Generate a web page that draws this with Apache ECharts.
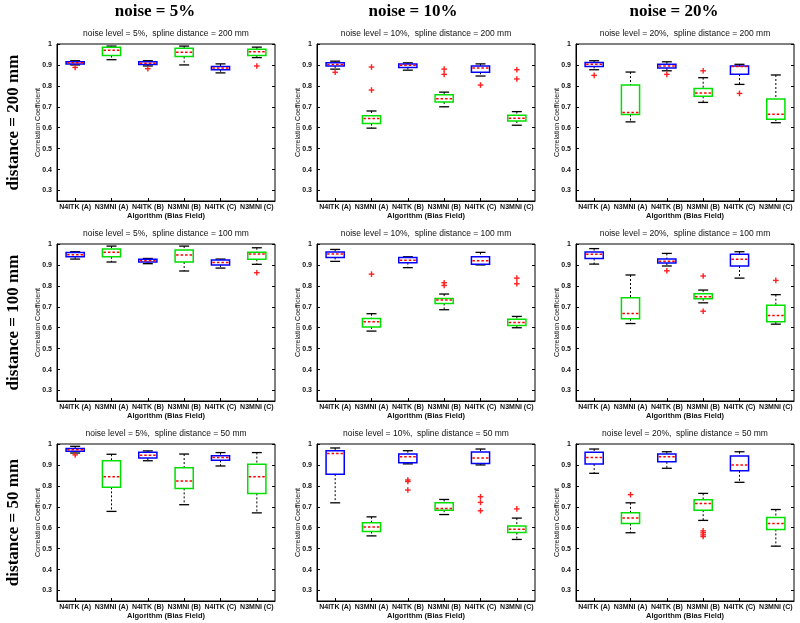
<!DOCTYPE html>
<html>
<head>
<meta charset="utf-8">
<script src="https://cdn.jsdelivr.net/npm/echarts@6/dist/echarts.min.js"></script>
<style>html,body{margin:0;padding:0;background:#fff;}#c{width:800px;height:623px;}</style>
</head>
<body>
<div id="c"></div>
<script>
// ---------- data ----------
const categories = ['N4ITK (A)', 'N3MNI (A)', 'N4ITK (B)', 'N3MNI (B)', 'N4ITK (C)', 'N3MNI (C)'];
const noiseLevels = ['5%', '10%', '20%'];
const splineDistances = [200, 100, 50];
const yTicks = [0.3, 0.4, 0.5, 0.6, 0.7, 0.8, 0.9, 1];

// each box: [lower whisker, Q1, median, Q3, upper whisker]
const box_n5_d200 = [[0.900,0.905,0.910,0.915,0.920],[0.925,0.945,0.970,0.985,0.990],[0.895,0.902,0.908,0.915,0.920],[0.900,0.940,0.960,0.980,0.990],[0.862,0.877,0.885,0.893,0.905],[0.935,0.945,0.963,0.975,0.985]];
const out_n5_d200 = [[0,0.888],[2,0.882],[5,0.895]];
const box_n10_d200 = [[0.880,0.895,0.902,0.910,0.918],[0.598,0.620,0.644,0.657,0.680],[0.875,0.888,0.898,0.905,0.910],[0.700,0.723,0.738,0.757,0.770],[0.847,0.865,0.885,0.895,0.905],[0.612,0.632,0.645,0.660,0.677]];
const out_n10_d200 = [[0,0.865],[1,0.890],[1,0.780],[3,0.880],[3,0.855],[4,0.804],[5,0.877],[5,0.833]];
const box_n20_d200 = [[0.877,0.893,0.903,0.912,0.920],[0.628,0.663,0.673,0.804,0.866],[0.872,0.885,0.895,0.903,0.915],[0.721,0.750,0.766,0.788,0.839],[0.807,0.856,0.892,0.895,0.903],[0.624,0.641,0.665,0.737,0.852]];
const out_n20_d200 = [[0,0.850],[2,0.855],[3,0.872],[4,0.764]];

const box_n5_d100 = [[0.928,0.939,0.949,0.959,0.963],[0.914,0.939,0.960,0.976,0.990],[0.906,0.914,0.920,0.927,0.931],[0.871,0.914,0.947,0.971,0.990],[0.885,0.900,0.912,0.923,0.928],[0.903,0.927,0.952,0.960,0.982]];
const out_n5_d100 = [[5,0.863]];
const box_n10_d100 = [[0.917,0.936,0.952,0.962,0.974],[0.584,0.604,0.628,0.644,0.667],[0.887,0.911,0.922,0.936,0.939],[0.686,0.716,0.732,0.740,0.761],[0.900,0.903,0.920,0.939,0.960],[0.600,0.611,0.625,0.640,0.654]];
const out_n10_d100 = [[1,0.856],[3,0.815],[3,0.802],[5,0.837],[5,0.810]];
const box_n20_d100 = [[0.904,0.931,0.951,0.962,0.978],[0.620,0.643,0.668,0.743,0.852],[0.895,0.909,0.917,0.928,0.955],[0.719,0.738,0.748,0.762,0.780],[0.837,0.895,0.927,0.951,0.963],[0.617,0.628,0.659,0.707,0.758]];
const out_n20_d100 = [[2,0.872],[3,0.847],[3,0.679],[5,0.826]];

const box_n5_d50 = [[0.957,0.965,0.973,0.978,0.989],[0.678,0.793,0.844,0.920,0.951],[0.920,0.933,0.946,0.960,0.967],[0.710,0.788,0.823,0.887,0.952],[0.895,0.922,0.936,0.944,0.959],[0.671,0.764,0.844,0.903,0.959]];
const out_n5_d50 = [[0,0.948]];
const box_n10_d50 = [[0.719,0.856,0.955,0.968,0.981],[0.561,0.582,0.603,0.624,0.652],[0.905,0.911,0.939,0.952,0.968],[0.663,0.684,0.692,0.719,0.735],[0.900,0.907,0.933,0.962,0.976],[0.544,0.577,0.593,0.608,0.646]];
const out_n10_d50 = [[2,0.828],[2,0.821],[2,0.780],[4,0.748],[4,0.721],[4,0.681],[5,0.690]];
const box_n20_d50 = [[0.860,0.904,0.935,0.960,0.976],[0.576,0.620,0.646,0.671,0.719],[0.884,0.915,0.939,0.952,0.963],[0.635,0.684,0.716,0.734,0.764],[0.817,0.872,0.900,0.943,0.963],[0.512,0.592,0.620,0.649,0.687]];
const out_n20_d50 = [[1,0.758],[3,0.585],[3,0.576],[3,0.566],[3,0.558]];

const boxes = [
  [box_n5_d200, box_n10_d200, box_n20_d200],
  [box_n5_d100, box_n10_d100, box_n20_d100],
  [box_n5_d50, box_n10_d50, box_n20_d50]
];
const outliers = [
  [out_n5_d200, out_n10_d200, out_n20_d200],
  [out_n5_d100, out_n10_d100, out_n20_d100],
  [out_n5_d50, out_n10_d50, out_n20_d50]
];

// ---------- layout ----------
const colLeft = [57, 317, 576];
const rowTop = [44, 244, 444];
const plotW = 218, plotH = 157;
const headerX = [155, 413, 674];

const chart = echarts.init(document.getElementById('c'), null, {renderer: 'canvas'});

const grids = [], xAxes = [], yAxes = [], series = [], graphics = [];
const labelFont = 'Liberation Sans, Arial, sans-serif';

function renderBox(params, api) {
  const idx = api.value(0);
  const lo = api.coord([idx, api.value(1)]);
  const q1 = api.coord([idx, api.value(2)]);
  const md = api.coord([idx, api.value(3)]);
  const q3 = api.coord([idx, api.value(4)]);
  const hi = api.coord([idx, api.value(5)]);
  const bw = api.size([1, 0])[0] * 0.5;
  const cw = bw * 0.55;
  const x = lo[0];
  const color = idx % 2 === 0 ? '#0000ff' : '#00e000';
  const wStyle = {stroke: '#000', lineWidth: 1, lineDash: [2, 2], fill: null};
  const cStyle = {stroke: '#000', lineWidth: 1.3, fill: null};
  return {
    type: 'group',
    children: [
      {type: 'line', shape: {x1: x, y1: hi[1], x2: x, y2: q3[1]}, style: wStyle},
      {type: 'line', shape: {x1: x, y1: q1[1], x2: x, y2: lo[1]}, style: wStyle},
      {type: 'line', shape: {x1: x - cw / 2, y1: hi[1], x2: x + cw / 2, y2: hi[1]}, style: cStyle},
      {type: 'line', shape: {x1: x - cw / 2, y1: lo[1], x2: x + cw / 2, y2: lo[1]}, style: cStyle},
      {type: 'rect', shape: {x: x - bw / 2, y: q3[1], width: bw, height: q1[1] - q3[1]}, style: {fill: 'none', stroke: color, lineWidth: 1.5}},
      {type: 'line', shape: {x1: x - bw / 2 + 1, y1: md[1], x2: x + bw / 2 - 1, y2: md[1]}, style: {stroke: '#ff0000', lineWidth: 1.5, lineDash: [2.5, 2]}}
    ]
  };
}

function renderOutlier(params, api) {
  const p = api.coord([api.value(0), api.value(1)]);
  const s = 2.8;
  const st = {stroke: '#ff2020', lineWidth: 1.4};
  return {
    type: 'group',
    children: [
      {type: 'line', shape: {x1: p[0] - s, y1: p[1], x2: p[0] + s, y2: p[1]}, style: st},
      {type: 'line', shape: {x1: p[0], y1: p[1] - s, x2: p[0], y2: p[1] + s}, style: st}
    ]
  };
}

for (let r = 0; r < 3; r++) {
  for (let c = 0; c < 3; c++) {
    const g = grids.length;
    grids.push({left: colLeft[c], top: rowTop[r], width: plotW, height: plotH, show: true, borderColor: '#000', borderWidth: 1, backgroundColor: 'transparent'});
    xAxes.push({
      type: 'category', gridIndex: g, data: categories, boundaryGap: true,
      axisLine: {show: true, lineStyle: {color: '#000', width: 1}},
      axisTick: {show: true, inside: true, alignWithLabel: true, length: 3, lineStyle: {color: '#000'}},
      axisLabel: {interval: 0, margin: 3, fontSize: 7, fontWeight: 'bold', color: '#111', fontFamily: labelFont},
      name: 'Algorithm (Bias Field)', nameLocation: 'middle', nameGap: 10.5, nameMoveOverlap: false,
      nameTextStyle: {fontSize: 7.5, fontWeight: 'bold', color: '#111', fontFamily: labelFont}
    });
    yAxes.push({
      type: 'value', gridIndex: g, min: 0.25, max: 1, position: 'left',
      splitLine: {show: false},
      axisLine: {show: true, lineStyle: {color: '#000', width: 1}},
      axisTick: {show: true, inside: true, length: 3, customValues: yTicks, lineStyle: {color: '#000'}},
      axisLabel: {customValues: yTicks, margin: 5, fontSize: 7, fontWeight: 'bold', color: '#111', fontFamily: labelFont,
        formatter: v => (Math.abs(v - 1) < 1e-9 ? '1' : v.toFixed(1))},
      name: 'Correlation Coefficient', nameLocation: 'middle', nameGap: 15, nameMoveOverlap: false,
      nameTextStyle: {fontSize: 7, color: '#111', fontFamily: labelFont}
    });
    const yRight = yAxes.length;
    yAxes.push({
      type: 'value', gridIndex: g, min: 0.25, max: 1, position: 'right',
      splitLine: {show: false},
      axisLine: {show: false},
      axisTick: {show: true, inside: true, length: 3, customValues: yTicks, lineStyle: {color: '#000'}},
      axisLabel: {show: false}
    });
    series.push({
      type: 'custom', xAxisIndex: g, yAxisIndex: yRight - 1,
      renderItem: renderBox,
      encode: {x: 0, y: [1, 2, 3, 4, 5]},
      data: boxes[r][c].map((b, i) => [i].concat(b)),
      silent: true, animation: false
    });
    series.push({
      type: 'custom', xAxisIndex: g, yAxisIndex: yRight - 1,
      renderItem: renderOutlier,
      encode: {x: 0, y: 1},
      data: outliers[r][c],
      silent: true, animation: false
    });
    graphics.push({
      type: 'text',
      x: colLeft[c] + plotW / 2, y: rowTop[r] - 10,
      style: {text: 'noise level = ' + noiseLevels[c] + ',  spline distance = ' + splineDistances[r] + ' mm',
        font: '8.5px ' + labelFont, fill: '#111', textAlign: 'center', textVerticalAlign: 'middle'}
    });
  }
}

// column headers
for (let c = 0; c < 3; c++) {
  graphics.push({
    type: 'text', x: headerX[c], y: 12,
    style: {text: 'noise = ' + noiseLevels[c], font: 'bold 17px "Liberation Serif", "Times New Roman", serif',
      fill: '#000', textAlign: 'center', textVerticalAlign: 'middle'}
  });
}
// row headers
for (let r = 0; r < 3; r++) {
  graphics.push({
    type: 'text', x: 14, y: rowTop[r] + plotH / 2, rotation: Math.PI / 2,
    style: {text: 'distance = ' + splineDistances[r] + ' mm', font: 'bold 17px "Liberation Serif", "Times New Roman", serif',
      fill: '#000', textAlign: 'center', textVerticalAlign: 'middle'}
  });
}

chart.setOption({
  animation: false,
  backgroundColor: '#fff',
  grid: grids,
  xAxis: xAxes,
  yAxis: yAxes,
  series: series,
  graphic: graphics
});
</script>
</body>
</html>
